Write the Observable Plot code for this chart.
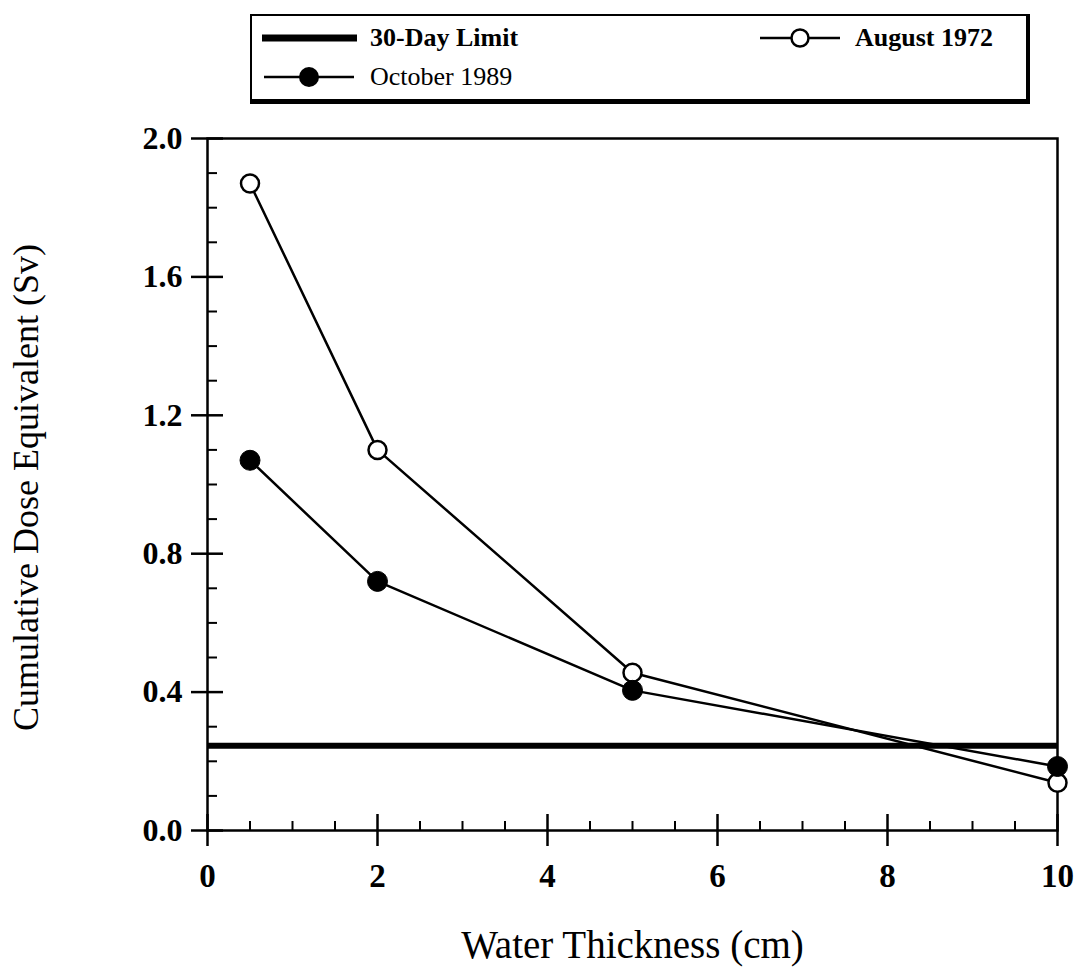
<!DOCTYPE html>
<html>
<head>
<meta charset="utf-8">
<script src="https://cdn.jsdelivr.net/npm/d3@7"></script>
<script src="https://cdn.jsdelivr.net/npm/@observablehq/plot@0.6"></script>
<style>
  body { margin: 0; background: #fff; }
  #figure { position: relative; width: 1085px; height: 967px; font-family: "Liberation Serif", "Times New Roman", serif; color: #000; }
  #legend { position: relative; width: 1085px; height: 118px; }
  #legend .box { position: absolute; box-sizing: border-box; left: 250px; top: 14px; width: 780px; height: 90px;
                 border: 2.5px solid #000; border-bottom-width: 5px; border-right-width: 4px; }
  #legend .item { position: absolute; height: 40px; display: flex; align-items: center; font-size: 26px; white-space: nowrap; }
  #legend .item svg { display: block; }
  #chart svg { display: block; }
</style>
</head>
<body>
<div id="figure">
  <div id="legend"><div class="box"></div></div>
  <div id="chart"></div>
</div>
<script>
// Water shield thickness (cm) and cumulative dose equivalent (Sv) per solar event
const thickness = [0.5, 2, 5, 10];
const august1972 = [1.87, 1.10, 0.456, 0.138];
const october1989 = [1.07, 0.72, 0.405, 0.185];
const limit30Day = 0.245;

const seriesAug = "August 1972";
const seriesOct = "October 1989";
const limitLabel = "30-Day Limit";

const xTicks = [0, 2, 4, 6, 8, 10];
const yTicks = [0, 0.4, 0.8, 1.2, 1.6, 2.0];
const xMinorTicks = d3.range(0, 10.01, 0.5).filter(v => !xTicks.includes(v));
const yMinorTicks = d3.range(0, 2.001, 0.1).map(v => +v.toFixed(1)).filter(v => !yTicks.includes(v));

const xTitle = "Water Thickness (cm)";
const yTitle = "Cumulative Dose Equivalent (Sv)";

const serif = "'Liberation Serif', 'Times New Roman', serif";

const rows = thickness.flatMap((t, i) => [
  {series: seriesAug, thickness: t, dose: august1972[i]},
  {series: seriesOct, thickness: t, dose: october1989[i]}
]);

const chart = Plot.plot({
  width: 1085,
  height: 849,
  marginTop: 20,
  marginBottom: 137,
  marginLeft: 207,
  marginRight: 28,
  style: {fontFamily: serif, background: "white", overflow: "visible", color: "black"},
  x: {domain: [0, 10], axis: null, label: null},
  y: {domain: [0, 2], axis: null, label: null},
  marks: [
    Plot.frame({stroke: "black", strokeWidth: 2.5}),
    // minor ticks point into the plot; major ticks cross the axis line
    Plot.ruleX(xMinorTicks, {y1: 0, y2: 0, insetTop: 0, insetBottom: 9, stroke: "black", strokeWidth: 2}),
    Plot.ruleX(xTicks, {y1: 0, y2: 0, insetTop: 16, insetBottom: 16, stroke: "black", strokeWidth: 2.5}),
    Plot.ruleY(yMinorTicks, {x1: 0, x2: 0, insetLeft: 0, insetRight: -10, stroke: "black", strokeWidth: 2}),
    Plot.ruleY(yTicks, {x1: 0, x2: 0, insetLeft: -16, insetRight: -16, stroke: "black", strokeWidth: 2.5}),
    Plot.axisX(xTicks, {tickSize: 0, tickPadding: 33, fontSize: 33, fontWeight: "bold", fontFamily: serif,
                        tickFormat: d => String(d), label: null}),
    Plot.axisY(yTicks, {tickSize: 0, tickPadding: 25, fontSize: 32, fontWeight: "bold", fontFamily: serif,
                        tickFormat: d3.format(".1f"), label: null}),
    Plot.ruleY([limit30Day], {x1: 0, x2: 10, stroke: "black", strokeWidth: 6}),
    Plot.line(rows, {x: "thickness", y: "dose", z: "series", stroke: "black", strokeWidth: 2.5}),
    Plot.dot(rows.filter(d => d.series === seriesAug), {x: "thickness", y: "dose", r: 9, fill: "white", stroke: "black", strokeWidth: 2.5}),
    Plot.dot(rows.filter(d => d.series === seriesOct), {x: "thickness", y: "dose", r: 10, fill: "black", stroke: "black", strokeWidth: 1}),
    Plot.text([xTitle], {frameAnchor: "bottom", dy: 115, fontSize: 39, fontFamily: serif, lineAnchor: "middle", textAnchor: "middle", fill: "black"}),
    Plot.text([yTitle], {frameAnchor: "left", rotate: -90, dx: -181, dy: 3, fontSize: 36, fontFamily: serif, lineAnchor: "middle", textAnchor: "middle", fill: "black"})
  ]
});
document.getElementById("chart").append(chart);

// Legend entries: line swatches with the series markers
const legendItems = [
  {label: limitLabel, left: 262, row: 38, swatchWidth: 95, gap: 13, bold: true, kind: "limit"},
  {label: seriesOct, left: 264, row: 77, swatchWidth: 90, gap: 16, bold: false, kind: "filled"},
  {label: seriesAug, left: 760, row: 38, swatchWidth: 80, gap: 15, bold: true, kind: "open"}
];
const legend = document.getElementById("legend");
for (const item of legendItems) {
  const div = document.createElement("div");
  div.className = "item";
  div.style.left = item.left + "px";
  div.style.top = (item.row - 20) + "px";
  const w = item.swatchWidth;
  let svg = `<svg width="${w}" height="40" viewBox="0 0 ${w} 40">`;
  if (item.kind === "limit") {
    svg += `<line x1="0" x2="${w}" y1="20" y2="20" stroke="black" stroke-width="7"/>`;
  } else {
    svg += `<line x1="0" x2="${w}" y1="20" y2="20" stroke="black" stroke-width="2.5"/>`;
    svg += item.kind === "filled"
      ? `<circle cx="${w / 2}" cy="20" r="10" fill="black"/>`
      : `<circle cx="${w / 2}" cy="20" r="8.5" fill="white" stroke="black" stroke-width="2.5"/>`;
  }
  svg += `</svg>`;
  div.innerHTML = svg + `<span style="margin-left:${item.gap}px;font-weight:${item.bold ? "bold" : "normal"}">${item.label}</span>`;
  legend.append(div);
}
</script>
</body>
</html>
